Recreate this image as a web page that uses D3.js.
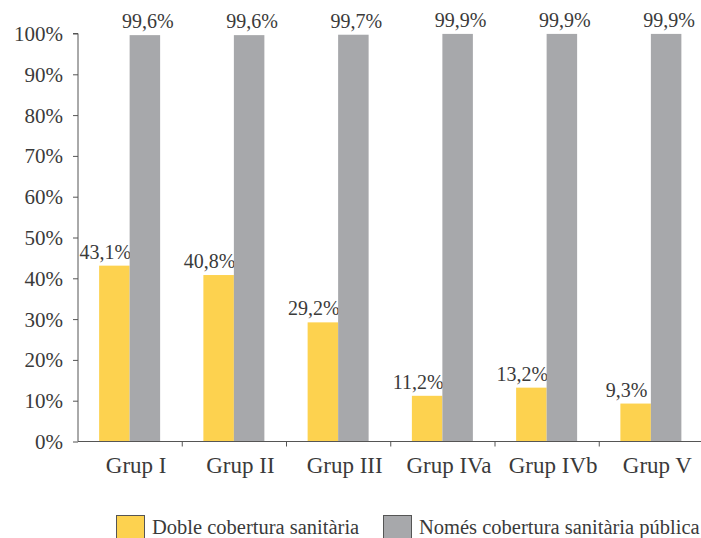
<!DOCTYPE html>
<html><head><meta charset="utf-8">
<script src="https://cdn.jsdelivr.net/npm/d3@7"></script>
<style>body{margin:0;background:#fff}svg{display:block}text{font-family:"Liberation Serif",serif;fill:#3a3a3a}</style>
</head><body><svg width="701" height="538"></svg>
<script>
const categories = ["Grup I","Grup II","Grup III","Grup IVa","Grup IVb","Grup V"];
const doble = [43.1,40.8,29.2,11.2,13.2,9.3];
const publica = [99.6,99.6,99.7,99.9,99.9,99.9];
const yTicks = [0,10,20,30,40,50,60,70,80,90,100];
const seriesNames = ["Doble cobertura sanitària","Només cobertura sanitària pública"];
const colors = ["#fdd24f","#a7a8ab"];

const svg = d3.select("svg");
const x0 = 78, bw = 104.25;
const x = d3.scaleBand().domain(categories).range([x0, x0 + bw*6]).paddingInner(0).paddingOuter(0);
const y = d3.scaleLinear().domain([0,100]).range([441.5, 33.5]);
const barW = 30.5;
const fmt = v => v.toFixed(1).replace(".", ",") + "%";

// y axis
const yAxis = svg.append("g").attr("transform",`translate(${x0},0)`)
  .call(d3.axisLeft(y).tickValues(yTicks).tickFormat(d=>d+"%").tickSize(5).tickPadding(10));
yAxis.select(".domain").attr("stroke","#555").attr("d",`M-5,${y(100)}H0V${y(0)}`);
yAxis.selectAll(".tick line").attr("stroke","#555");
yAxis.selectAll(".tick text").attr("font-size",21).attr("fill","#3a3a3a").attr("font-family","Liberation Serif").attr("dy","0.33em");

// bars
const g = svg.append("g");
categories.forEach((c,i)=>{
  const cx = x(c) + x.bandwidth()/2 - 0.5;
  const vals = [doble[i], publica[i]];
  vals.forEach((v,j)=>{
    const bx = cx - barW + j*barW;
    g.append("rect").attr("x",bx).attr("y",y(v)).attr("width",barW).attr("height",y(0)-y(v)).attr("fill",colors[j]);
    g.append("text").attr("x", bx + barW/2 + (j===0?-9:3)).attr("y", y(v)-7)
      .attr("text-anchor","middle").attr("font-size",20).text(fmt(v));
  });
});

// x axis
const xa = svg.append("g");
xa.append("line").attr("x1",x0).attr("x2",701).attr("y1",y(0)).attr("y2",y(0)).attr("stroke","#555");
d3.range(1,7).forEach(k=>{
  const tx = x0 + k*bw;
  xa.append("line").attr("x1",tx).attr("x2",tx).attr("y1",y(0)).attr("y2",y(0)+5).attr("stroke","#555");
});
categories.forEach(c=>{
  xa.append("text").attr("x", x(c)+x.bandwidth()/2+6).attr("y",473).attr("text-anchor","middle")
    .attr("font-size",23).text(c);
});

// legend
const leg = svg.append("g");
const lx = [116, 383];
seriesNames.forEach((s,j)=>{
  leg.append("rect").attr("x",lx[j]+0.5).attr("y",515.5).attr("width",28).attr("height",30)
    .attr("fill",colors[j]).attr("stroke","#555").attr("stroke-width",1);
  leg.append("text").attr("x",lx[j]+36).attr("y",534).attr("font-size",20.5).text(s);
});
</script></body></html>
